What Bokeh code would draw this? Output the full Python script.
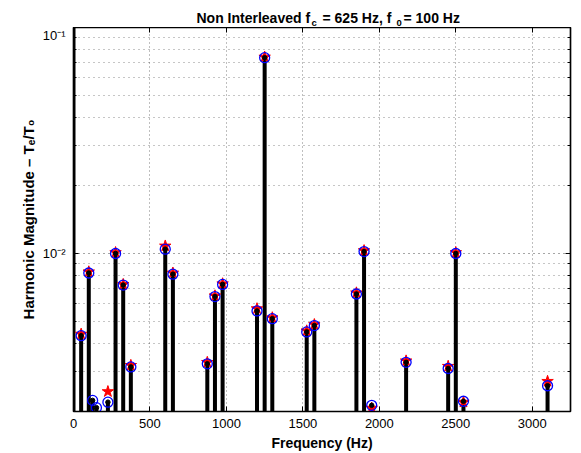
from bokeh.plotting import figure
from bokeh.layouts import column, row
from bokeh.models import (FixedTicker, LinearAxis, LogAxis, Range1d, Label,
                          CustomJSTickFormatter, ColumnDataSource)
from bokeh.embed import file_html
from bokeh.resources import INLINE

# ---- data ----
freqs = [0, 50, 100, 125, 150, 225, 275, 325, 375, 600, 650, 875, 925, 975,
         1200, 1250, 1300, 1525, 1575, 1850, 1900, 1950, 2175, 2450, 2500, 2550, 3100]
circle_vals = [1.0, 4.33e-3, 8.2e-3, 2.24e-3, 2.08e-3, 2.2e-3, 1.0e-2, 7.25e-3, 3.15e-3,
               1.045e-2, 8.1e-3, 3.25e-3, 6.45e-3, 7.3e-3,
               5.57e-3, 7.35e-2, 5.15e-3, 4.5e-3, 4.8e-3, 6.62e-3, 1.02e-2, 2.13e-3,
               3.3e-3, 3.1e-3, 1.0e-2, 2.22e-3, 2.6e-3]
star_vals = [1.0, 4.4e-3, 8.3e-3, float("nan"), float("nan"), 2.45e-3, 1.01e-2, 7.3e-3, 3.2e-3,
             1.08e-2, 8.2e-3, 3.3e-3, 6.5e-3, 7.35e-3,
             5.7e-3, 7.4e-2, 5.2e-3, 4.55e-3, 4.85e-3, 6.7e-3, 1.03e-2, 2.07e-3,
             3.35e-3, 3.17e-3, 1.01e-2, 2.2e-3, 2.72e-3]
x_ticks = [0, 500, 1000, 1500, 2000, 2500, 3000]
y_ticks = [0.01, 0.1]
y_tick_labels = ["10\u207b\u00b2", "10\u207b\u00b9"]
y_minor = [k * 1e-3 for k in range(2, 10)] + [k * 1e-2 for k in range(2, 10)]
title_parts = ["Non Interleaved f", "c", "= 625 Hz, f", "0", "= 100 Hz"]
y_label = "Harmonic Magnitude \u2013 T\u2091/T\u2080"
x_label = "Frequency (Hz)"

FONT = "Liberation Sans"
TOP_H = 27          # height of title strip (main plot's top panel adds the rest)
MAIN_H = 453 - TOP_H

# ---------------- main plot ----------------
p = figure(width=581, height=MAIN_H, y_axis_type="log",
           x_range=Range1d(0, 3250), y_range=Range1d(2e-3, 0.1),
           output_backend="svg", toolbar_location=None,
           min_border_left=73, min_border_right=11, min_border_top=0,
           min_border_bottom=42)
try:
    p.title = None
except Exception:
    p.title.visible = False
p.background_fill_color = "white"
p.border_fill_color = "white"
p.outline_line_color = "black"
p.outline_line_width = 1.5

xt = FixedTicker(ticks=x_ticks)
yt = FixedTicker(ticks=y_ticks, minor_ticks=y_minor)

def style_axis(ax):
    ax.axis_line_color = "black"
    ax.axis_line_width = 1.2
    ax.major_tick_in = 5
    ax.major_tick_out = 0
    ax.minor_tick_in = 3
    ax.minor_tick_out = 0
    ax.major_tick_line_color = "black"
    ax.minor_tick_line_color = "black"
    ax.major_label_text_font = FONT
    ax.major_label_text_font_size = "13px"
    ax.major_label_text_color = "black"

xa = p.xaxis[0]
xa.ticker = xt
style_axis(xa)
xa.major_label_standoff = 7
xa.axis_label = x_label
xa.axis_label_text_font = FONT
xa.axis_label_text_font_size = "14px"
xa.axis_label_text_font_style = "bold"
xa.axis_label_text_color = "black"
xa.axis_label_standoff = 4

ya = p.yaxis[0]
ya.ticker = yt
style_axis(ya)
ya.major_label_standoff = 8
ya.major_label_overrides = dict(zip(y_ticks, y_tick_labels))
ya.axis_label = y_label
ya.axis_label_text_font = FONT
ya.axis_label_text_font_size = "15px"
ya.axis_label_text_font_style = "bold"
ya.axis_label_text_color = "black"
ya.axis_label_standoff = 3

blank = CustomJSTickFormatter(code="return ''")
top = LinearAxis(ticker=xt, formatter=blank)
style_axis(top)
top.major_label_standoff = 0
top.axis_label_standoff = 0
top.major_label_text_font_size = "0px"
right = LogAxis(ticker=yt, formatter=blank)
style_axis(right)
right.major_label_standoff = 0
right.axis_label_standoff = 0
right.major_label_text_font_size = "0px"
p.add_layout(top, "above")
p.add_layout(right, "right")

p.xgrid.ticker = xt
p.xgrid.grid_line_color = "black"
p.xgrid.grid_line_alpha = 0.5
p.xgrid.grid_line_dash = "1 3"
p.ygrid.ticker = yt
p.ygrid.grid_line_color = "black"
p.ygrid.grid_line_alpha = 0.7
p.ygrid.grid_line_dash = "1 4"
p.ygrid.minor_grid_line_color = "black"
p.ygrid.minor_grid_line_alpha = 0.45
p.ygrid.minor_grid_line_dash = "1 4"

src = ColumnDataSource(dict(f=freqs, c=circle_vals, s=star_vals,
                            base=[1e-3] * len(freqs)))
p.segment(x0="f", y0="base", x1="f", y1="c", source=src,
          line_color="black", line_width=4)
p.scatter("f", "s", source=src, marker="star", size=12,
          fill_color="red", line_color="red")
p.scatter("f", "c", source=src, marker="circle", size=10,
          fill_color=None, line_color="blue", line_width=1.3)
p.scatter("f", "c", source=src, marker="circle", size=4.5,
          fill_color="black", line_color="black")

# ---------------- title strip (pixel coordinates) ----------------
tf = figure(width=581, height=TOP_H, x_range=Range1d(0, 581), y_range=Range1d(0, TOP_H),
            x_axis_type=None, y_axis_type=None, output_backend="svg",
            toolbar_location=None, min_border=0)
tf.outline_line_color = None
tf.grid.visible = False
t_x = [196, 311, 322, 396, 403]
t_base = [17.5, 22, 17.5, 22, 17.5]          # baselines, px from page top
t_size = ["14px", "9.5px", "14px", "9.5px", "14px"]
for txt, xo, yb, fs in zip(title_parts, t_x, t_base, t_size):
    tf.add_layout(Label(x=xo, y=TOP_H - yb, text=txt,
                        text_font=FONT, text_font_size=fs,
                        text_font_style="bold", text_color="black",
                        text_align="left", text_baseline="alphabetic"))

layout = column(row(tf, spacing=0), row(p, spacing=0), spacing=0)
open("out.html", "w").write(file_html(layout, INLINE))
